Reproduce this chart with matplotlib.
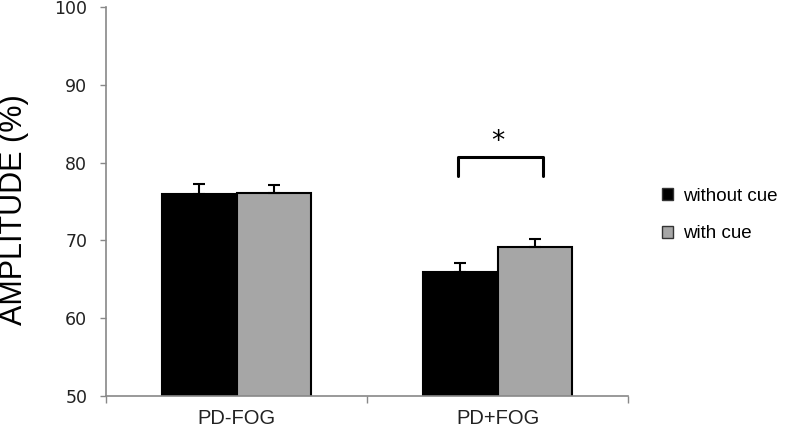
import matplotlib
matplotlib.use("Agg")
import matplotlib.pyplot as plt
from matplotlib.patches import Patch
import numpy as np

categories = ["PD-FOG", "PD+FOG"]
series_names = ["without cue", "with cue"]
without_cue = [76.0, 66.0]
with_cue = [76.1, 69.1]
err_without = [1.2, 1.1]
err_with = [1.0, 1.1]
yticks = [50, 60, 70, 80, 90, 100]

fig = plt.figure(figsize=(7.92, 4.28), dpi=100)
ax = fig.add_axes([106/792, 1-396/428, (628-106)/792, (396-7)/428])

x = np.arange(len(categories))
w = 0.287
colors = ["#000000", "#a6a6a6"]
for vals, errs, off, c in [(without_cue, err_without, -w/2, colors[0]),
                           (with_cue, err_with, w/2, colors[1])]:
    ax.bar(x + off, vals, width=w, color=c, edgecolor="black", linewidth=1.5,
           yerr=[np.zeros(len(errs)), errs], capsize=4,
           error_kw=dict(ecolor="black", elinewidth=1.5, capthick=1.5), zorder=2)

ax.set_ylim(50, 100)
ax.set_xlim(-0.5, 1.5)
ax.set_yticks(yticks)
ax.set_yticklabels([str(t) for t in yticks], fontfamily="DejaVu Sans", fontsize=12.5, color="#222222")
ax.set_xticks(x)
ax.set_xticklabels(categories, fontfamily="Liberation Sans", fontsize=14.5, color="#222222")
ax.tick_params(axis="x", length=0, pad=9)
ax.set_xticks([-0.5, 0.5, 1.5], minor=True)
ax.tick_params(axis="x", which="minor", length=5, color="#888888", width=1)
ax.tick_params(axis="y", length=4.5, color="#888888", width=1, pad=9)
for s in ["top", "right"]:
    ax.spines[s].set_visible(False)
for s in ["left", "bottom"]:
    ax.spines[s].set_color("#888888")
    ax.spines[s].set_linewidth(1.2)

fig.text(14/792, 1-210/428, "AMPLITUDE (%)", rotation=90, ha="center", va="center",
         fontfamily="Liberation Sans", fontsize=22)

# significance bracket
x1, x2 = 1 - 0.15, 1 + 0.175
ax.plot([x1, x1, x2, x2], [78.3, 80.7, 80.7, 78.3], color="black", lw=2.2,
        solid_joinstyle="round", solid_capstyle="round", zorder=3)
ax.text(1 + 0.0, 82.6, "*", ha="center", va="center", fontsize=19, fontfamily="DejaVu Sans")

handles = [Patch(facecolor=colors[0], edgecolor="#333333", linewidth=1),
           Patch(facecolor=colors[1], edgecolor="#333333", linewidth=1)]
fig.legend(handles, series_names, loc="center left", bbox_to_anchor=(645/792, 1-215/428),
           frameon=False, prop=dict(family="Liberation Sans", size=13.5),
           handlelength=0.6, handleheight=0.6, handletextpad=0.55, labelspacing=1.1)

fig.savefig("out.png", dpi=100)
